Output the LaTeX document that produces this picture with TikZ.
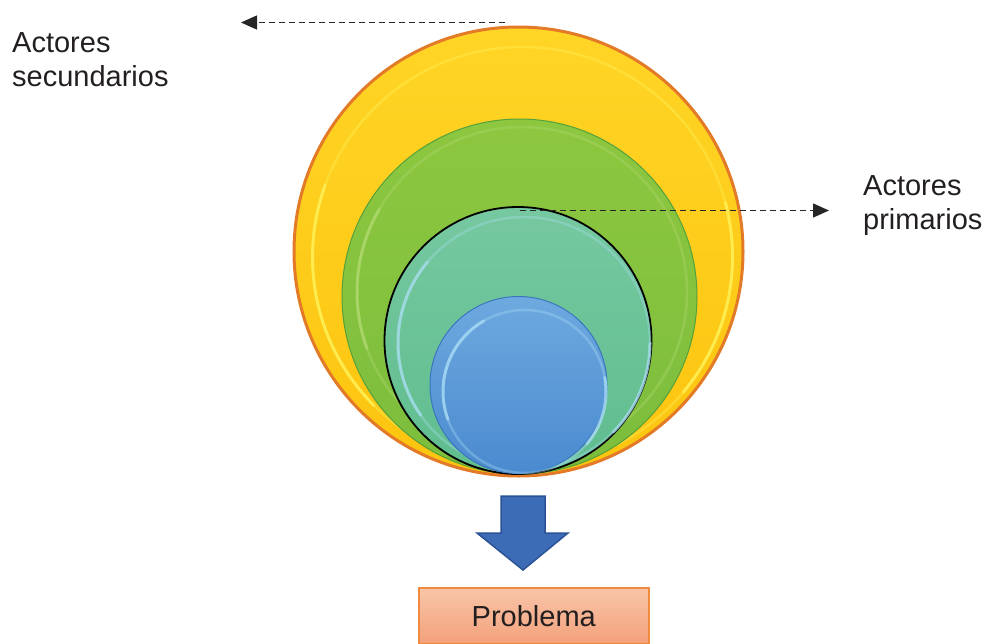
\documentclass[tikz,border=0pt]{standalone}
\usepackage{fontspec}
\setmainfont{Liberation Sans}
\usetikzlibrary{arrows.meta,calc}
\definecolor{txt}{HTML}{231F20}
\definecolor{yelT}{HTML}{FFD526}
\definecolor{yelB}{HTML}{FCC40F}
\definecolor{yelHi}{HTML}{FFF45C}
\definecolor{rimO}{HTML}{E27A28}
\definecolor{grnT}{HTML}{8DC73F}
\definecolor{grnB}{HTML}{7CBD3D}
\definecolor{grnHi}{HTML}{B2DA72}
\definecolor{grnRim}{HTML}{55A13A}
\definecolor{tealT}{HTML}{76C8A0}
\definecolor{tealB}{HTML}{5FBD8E}
\definecolor{tealHi}{HTML}{A9DEF0}
\definecolor{bluT}{HTML}{6EA9DF}
\definecolor{bluB}{HTML}{4A8ACF}
\definecolor{bluHi}{HTML}{ABDDF6}
\definecolor{bluRim}{HTML}{3B76BE}
\definecolor{arrF}{HTML}{3D6CB6}
\definecolor{arrD}{HTML}{2A5397}
\definecolor{boxT}{HTML}{F8C5A8}
\definecolor{boxB}{HTML}{F4A17B}
\definecolor{boxD}{HTML}{F08A3C}
\begin{document}
\begin{tikzpicture}[x=1pt,y=-1pt,
  disc/.style={circle, inner sep=0pt, outer sep=0pt},
  ring/.style={line width=2.5pt, opacity=0.35},
  hiarc/.style={line width=3pt, opacity=0.7, line cap=round},
  lbl/.style={text=txt, inner sep=0pt, align=left, font=\fontsize{29}{34}\selectfont},
  dasharrow/.style={draw=black!85, line width=1.3pt, dash pattern=on 6pt off 4pt,
    -{Triangle[length=16pt,width=14pt]}},
  probbox/.style={draw=boxD, line width=1.5pt, top color=boxT, bottom color=boxB,
    minimum width=230pt, minimum height=56pt, inner sep=0pt, text=txt,
    font=\fontsize{29}{34}\selectfont}]
\useasboundingbox (0,0) rectangle (987,643);

% outer yellow circle
\node[disc, minimum size=449pt, top color=yelT, bottom color=yelB, draw=rimO, line width=3pt] (outer) at (518.5,251.5) {};
\draw[ring, yelHi] (522.5,257) circle (210pt);
\draw[hiarc, yelHi] (522.5,257) ++(160:210pt) arc[start angle=160, end angle=225, radius=210pt];
\draw[hiarc, yelHi] (522.5,257) ++(-40:210pt) arc[start angle=-40, end angle=15, radius=210pt];

% green circle
\node[disc, minimum size=355pt, top color=grnT, bottom color=grnB, draw=grnRim, line width=1pt] (green) at (519.5,296.5) {};
\draw[ring, grnHi] (522,292) circle (165pt);
\draw[hiarc, grnHi] (522,292) ++(150:165pt) arc[start angle=150, end angle=200, radius=165pt];

% teal circle
\node[disc, minimum size=267pt, top color=tealT, bottom color=tealB, draw=black, line width=1.8pt] (teal) at (518,340.5) {};
\draw[ring, tealHi] (524,343) circle (126pt);
\draw[hiarc, tealHi] (524,343) ++(140:126pt) arc[start angle=140, end angle=215, radius=126pt];
\draw[hiarc, tealHi] (524,343) ++(-45:126pt) arc[start angle=-45, end angle=0, radius=126pt];

% blue circle
\node[disc, minimum size=177pt, top color=bluT, bottom color=bluB, draw=bluRim, line width=1pt] (blue) at (518.5,385) {};
\draw[ring, bluHi] (524.5,391.5) circle (81.5pt);
\draw[hiarc, bluHi] (524.5,391.5) ++(120:81.5pt) arc[start angle=120, end angle=200, radius=81.5pt];
\draw[hiarc, bluHi] (524.5,391.5) ++(-40:81.5pt) arc[start angle=-40, end angle=10, radius=81.5pt];

% labels
\node[lbl, anchor=north west] (sec) at (12,32.5) {Actores\\secundarios};
\node[lbl, anchor=north west] (prim) at (863,175) {Actores\\primarios};

% dashed arrows
\coordinate (s1) at (505,22.5);
\coordinate (s2) at (241,22.5);
\draw[dasharrow] (s1) -- (s2);
\coordinate (p1) at (520,210.5);
\coordinate (p2) at (829,210.5);
\draw[dasharrow] (p1) -- (p2);

% block arrow
\draw[fill=arrF, draw=arrD, line width=1.5pt, line join=miter]
  (501,496) -- (545,496) -- (545,533) -- (568,533) -- (523,570) -- (477,533) -- (501,533) -- cycle;

% problem box
\node[probbox, anchor=north west] (prob) at (418,587) {Problema};
\end{tikzpicture}
\end{document}
